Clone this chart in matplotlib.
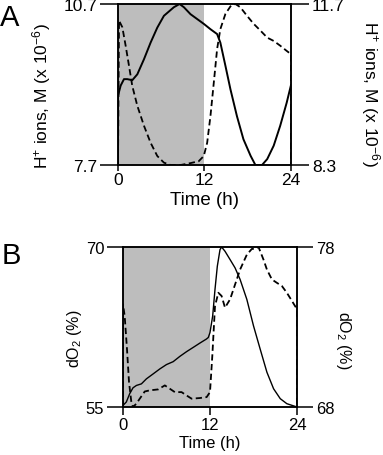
import matplotlib
matplotlib.use("Agg")
import matplotlib.pyplot as plt

plt.rcParams['font.family'] = ['Liberation Sans', 'DejaVu Sans']
plt.rcParams['mathtext.fontset'] = 'custom'
plt.rcParams['mathtext.rm'] = 'Liberation Sans'
plt.rcParams['mathtext.it'] = 'Liberation Sans:italic'
plt.rcParams['lines.scale_dashes'] = False

# ---------------- Data ----------------
# Panel A: H+ ions
a_solid_t = [0, 0.0, 0.37, 0.83, 1.29, 1.98, 2.68, 3.6, 4.52, 5.45, 6.37, 7.06, 7.75, 8.54,
             9.14, 10.06, 10.98, 11.9, 12.83, 13.75, 14.2, 14.9, 15.6, 16.5, 17.4, 18.4,
             19.06, 19.98, 20.7, 21.6, 22.5, 23.4, 24.0]
a_solid_v = [7.7, 8.99, 9.18, 9.30, 9.30, 9.28, 9.39, 9.67, 9.98, 10.26, 10.48, 10.56, 10.64, 10.70,
             10.64, 10.51, 10.42, 10.33, 10.23, 10.14, 9.98, 9.55, 9.11, 8.61, 8.18, 7.87,
             7.70, 7.70, 7.81, 8.06, 8.43, 8.86, 9.19]
a_dash_t = [0.0, 0.14, 0.6, 1.06, 1.52, 1.98, 2.68, 3.6, 4.52, 5.45, 6.37, 7.29, 8.68, 10.06,
            11.2, 11.9, 12.37, 12.83, 13.29, 13.75, 14.2, 14.9, 15.6, 16.3, 16.98, 17.9,
            18.83, 19.75, 20.7, 21.6, 22.5, 23.4, 24.0, 24.0]
a_dash_v = [8.3, 11.35, 11.21, 10.82, 10.40, 9.97, 9.55, 9.13, 8.77, 8.49, 8.35, 8.30, 8.30, 8.34,
            8.38, 8.49, 8.77, 9.34, 10.04, 10.75, 11.17, 11.49, 11.65, 11.70, 11.63, 11.45,
            11.28, 11.14, 10.99, 10.92, 10.82, 10.71, 10.64, 8.3]

# Panel B: dissolved oxygen
b_solid_t = [0, 0.46, 0.92, 1.38, 1.85, 2.54, 3.23, 4.15, 5.08, 6.0, 6.92, 7.85, 8.77, 9.69,
             10.6, 11.5, 11.77, 12.0, 12.37, 12.69, 13.01, 13.38, 13.6, 14.07, 14.77, 15.46,
             16.15, 17.08, 18.0, 18.92, 19.85, 20.77, 21.69, 22.6, 24.0]
b_solid_v = [55.15, 55.47, 56.24, 56.8, 57.02, 57.17, 57.64, 58.1, 58.57, 58.98, 59.25, 59.75, 60.19, 60.59,
             60.99, 61.37, 61.52, 61.99, 63.54, 66.03, 68.2, 69.75, 70.0, 69.6, 68.82, 68.04,
             66.96, 65.09, 62.61, 60.43, 58.26, 56.71, 55.78, 55.31, 55.0]
b_dash_t = [0.0, 0.0, 0.23, 0.55, 0.83, 1.15, 1.38, 1.85, 2.31, 3.0, 3.69, 4.85, 5.77, 6.46, 7.15,
            8.08, 8.77, 9.46, 10.6, 11.54, 12.0, 12.32, 12.69, 13.15, 13.6, 14.07, 14.77,
            15.46, 16.15, 17.08, 17.77, 18.23, 18.69, 19.38, 19.85, 20.54, 21.23, 21.92,
            22.6, 23.3, 24.0, 24.0]
b_dash_v = [68.0, 74.42, 73.69, 71.62, 69.55, 68.31, 68.0, 68.21, 68.52, 68.97, 69.04, 69.1, 69.35, 69.14, 68.93,
            68.93, 68.72, 68.52, 68.56, 68.62, 68.93, 71.21, 74.31, 75.14, 74.94, 74.21, 74.73,
            75.66, 76.59, 77.52, 77.88, 77.88, 78.0, 77.21, 76.59, 75.97, 75.76, 75.56,
            75.14, 74.63, 74.11, 68.0]

x_ticks = [0, 12, 24]
a_left_ticks = [7.7, 10.7]
a_right_ticks = [8.3, 11.7]
b_left_ticks = [55, 70]
b_right_ticks = [68, 78]
dark_period = (0, 12)

# ---------------- Figure ----------------
W, H = 383, 456
fig = plt.figure(figsize=(W / 100, H / 100), dpi=100)

def px_axes(l, r, t, b):
    return [l / W, 1 - b / H, (r - l) / W, (b - t) / H]

def style(ax, tw, lw_solid, ylim_l, ylim_r, lt, rt, s_t, s_v, d_t, d_v, ticklen, fs, xfs, xlen):
    ax.axvspan(*dark_period, color='#bdbdbd', lw=0, zorder=0)
    ax.plot(s_t, s_v, color='black', lw=lw_solid, zorder=3)
    ax.set_xlim(0, 24)
    ax.set_ylim(*ylim_l)
    ax.set_xticks(x_ticks)
    ax.set_xticklabels([str(v) for v in x_ticks], fontsize=xfs)
    ax.set_yticks(lt)
    ax.set_yticklabels([str(v) for v in lt], fontsize=fs)
    ax.tick_params(axis='y', direction='out', length=ticklen, width=1.1, pad=2)
    ax.tick_params(axis='x', direction='out', length=xlen, width=1.1, pad=1)
    tw.plot(d_t, d_v, color='black', lw=1.3, dashes=(4.5, 2.5), zorder=3)
    tw.set_ylim(*ylim_r)
    tw.set_yticks(rt)
    tw.set_yticklabels([str(v) for v in rt], fontsize=fs)
    tw.tick_params(axis='y', direction='out', length=ticklen, width=1.1, pad=2)
    for a in (ax, tw):
        for s in a.spines.values():
            s.set_linewidth(1.1)

axA = fig.add_axes(px_axes(118, 291, 5, 166))
twA = axA.twinx()
style(axA, twA, 1.4, (7.7, 10.7), (8.3, 11.7), a_left_ticks, a_right_ticks,
      a_solid_t, a_solid_v, a_dash_t, a_dash_v, 13, 12.5, 12.5, 4)

axB = fig.add_axes(px_axes(123, 297, 248, 408))
twB = axB.twinx()
style(axB, twB, 1.0, (55, 70), (68, 78), b_left_ticks, b_right_ticks,
      b_solid_t, b_solid_v, b_dash_t, b_dash_v, 11.5, 12, 12, 6)

# Labels
fig.text(0.0, 1 - 18 / H, 'A', fontsize=21, ha='left', va='center')
fig.text(0.005, 1 - 256 / H, 'B', fontsize=21, ha='left', va='center')

ylabA = 'H$^{+}$ ions, M (x 10$^{\\mathregular{-6}}$)'
fig.text(42 / W, 1 - 96 / H, ylabA, rotation=90, fontsize=12.5, ha='center', va='center')
fig.text(370 / W, 1 - 94 / H, ylabA, rotation=270, fontsize=12.5, ha='center', va='center')
fig.text(204 / W, 1 - 201 / H, 'Time (h)', fontsize=13.5, ha='center', va='center')

ylabB = 'dO$_{2}$ (%)'
fig.text(74 / W, 1 - 339 / H, ylabB, rotation=90, fontsize=11.5, ha='center', va='center')
fig.text(343 / W, 1 - 340 / H, ylabB, rotation=270, fontsize=11.5, ha='center', va='center')
fig.text(210 / W, 1 - 444 / H, 'Time (h)', fontsize=12, ha='center', va='center')

fig.savefig('out.png', dpi=100)
